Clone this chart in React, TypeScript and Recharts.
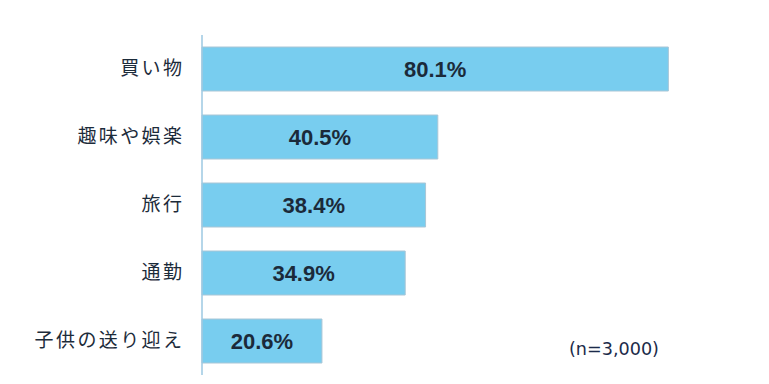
import React from "react";
import { BarChart, Bar, XAxis, YAxis, LabelList } from "recharts";

const categories = ["買い物", "趣味や娯楽", "旅行", "通勤", "子供の送り迎え"];
const values = [80.1, 40.5, 38.4, 34.9, 20.6];
const note = "(n=3,000)";

const data = categories.map((name, i) => ({ name, value: values[i] }));

const CatTick = (props: any) => {
  const { x, y, payload } = props;
  return (
    <text
      x={x}
      y={y}
      dy={6}
      dx={2.4}
      textAnchor="end"
      fill="#1c2b3a"
      fontSize={19}
      letterSpacing={2.4}
      fontFamily="'Noto Sans CJK JP', sans-serif"
    >
      {payload.value}
    </text>
  );
};

export default function App() {
  return (
    <div style={{ position: "absolute", left: 0, top: 0, width: 769, height: 384, background: "#fff" }}>
      <BarChart
        width={769}
        height={384}
        data={data}
        layout="vertical"
        margin={{ top: 35, right: 43, bottom: 9, left: 0 }}
      >
        <XAxis type="number" domain={[0, 90]} hide />
        <YAxis
          type="category"
          dataKey="name"
          width={202}
          axisLine={{ stroke: "#9cc8e2", strokeWidth: 1.5 }}
          tickLine={false}
          tick={<CatTick />}
          tickMargin={14}
        />
        <Bar
          dataKey="value"
          fill="#78cdef"
          stroke="#a9c6d6"
          strokeWidth={1}
          barSize={44}
          isAnimationActive={false}
        >
          <LabelList
            dataKey="value"
            position="center"
            formatter={(v: any) => `${Number(v).toFixed(1)}%`}
            fill="#1b2a3a"
            fontSize={22}
            fontWeight="bold"
            fontFamily="'Liberation Sans', Arial, sans-serif"
          />
        </Bar>
      </BarChart>
      <div
        style={{
          position: "absolute",
          left: 569,
          top: 339,
          fontSize: 17.6,
          fontFamily: "'DejaVu Sans', Verdana, sans-serif",
          color: "#1c2b4a",
          whiteSpace: "nowrap",
        }}
      >
        {note}
      </div>
    </div>
  );
}
